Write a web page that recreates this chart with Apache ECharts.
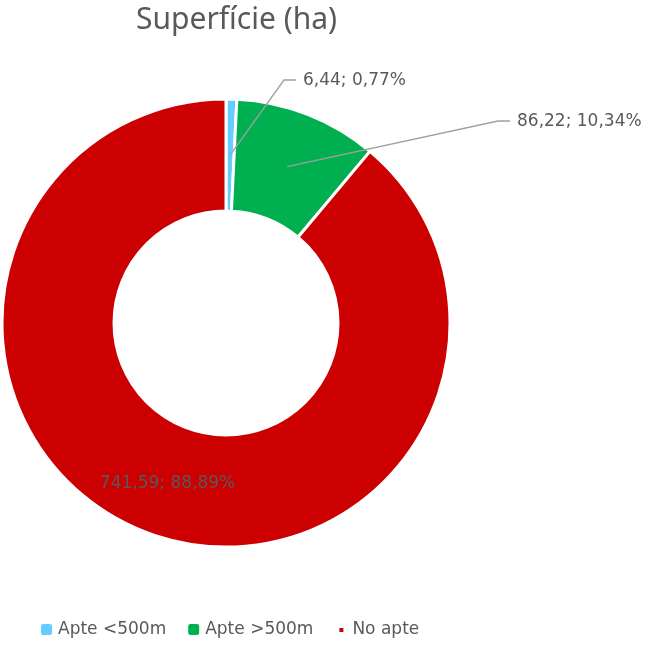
<!DOCTYPE html>
<html>
<head>
<meta charset="utf-8">
<script src="https://cdn.jsdelivr.net/npm/echarts@6/dist/echarts.min.js"></script>
<style>
  html, body { margin: 0; padding: 0; background: #fff; }
  #chart { width: 646px; height: 647px; }
</style>
</head>
<body>
<div id="chart"></div>
<script>
// Superfície (ha) - donut
const categories = ["Apte <500m", "Apte >500m", "No apte"];
const values = [6.44, 86.22, 741.59];
const colors = ["#66CCFF", "#00B050", "#CC0000"];

(function(){
  const CX = 226, CY = 323, R_IN = 112, R_OUT = 224;
  const R_MID = (R_IN + R_OUT) / 2;
  const total = values.reduce((a, b) => a + b, 0);
  const fmt = (n) => Number(n).toFixed(2).replace(".", ",");
  const labelText = (p) => `${fmt(p.value)}; ${fmt(p.percent)}%`;
  const labelFont = { fontFamily: "DejaVu Sans", fontSize: 17 };

  // where the outside labels sit (left edge, middle)
  const spots = { 0: [303, 81], 1: [517, 122] };

  function midPoint(i){
    let cum = 0;
    for (let k = 0; k < i; k++) cum += values[k];
    const a = 2 * Math.PI * (cum + values[i] / 2) / total;
    return [CX + R_MID * Math.sin(a), CY - R_MID * Math.cos(a)];
  }

  // main ring: colours + the label that sits inside the big slice
  const ringData = categories.map((name, i) => ({
    name, value: values[i],
    itemStyle: { color: colors[i] },
    label: { show: i === 2 }
  }));

  // transparent copy on top, only carries the callout labels and their lines
  const calloutData = categories.map((name, i) => ({
    name, value: values[i],
    label: { show: i !== 2 },
    labelLine: { show: i !== 2 }
  }));

  const chart = echarts.init(document.getElementById("chart"));
  chart.setOption({
    animation: false,
    title: {
      text: "Superfície (ha)",
      left: 131, top: 0,
      textStyle: { fontFamily: "Noto Sans", fontSize: 30, fontWeight: "normal", color: "#595959" }
    },
    legend: {
      left: 39, top: 621, padding: 0,
      itemWidth: 13, itemHeight: 13, itemGap: 20,
      textStyle: { fontFamily: "DejaVu Sans", fontSize: 17, color: "#595959" },
      data: [
        { name: categories[0], icon: "roundRect" },
        { name: categories[1], icon: "roundRect" },
        { name: categories[2], icon: "path://M0,0M13,13M4,4h6v6h-6z" }
      ]
    },
    series: [{
      type: "pie",
      z: 2,
      center: [CX, CY],
      radius: [R_IN, R_OUT],
      startAngle: 90,
      clockwise: true,
      itemStyle: { borderColor: "#fff", borderWidth: 3 },
      label: Object.assign({ position: "inside", color: "#595959", formatter: labelText }, labelFont),
      labelLine: { show: false },
      emphasis: { disabled: true },
      silent: true,
      data: ringData
    }, {
      type: "pie",
      z: 3,
      center: [CX, CY],
      radius: [R_IN, R_OUT],
      startAngle: 90,
      clockwise: true,
      itemStyle: { color: "rgba(0,0,0,0)", borderWidth: 0 },
      label: Object.assign({ position: "outside", color: "#595959", formatter: labelText }, labelFont),
      labelLine: { lineStyle: { color: "#A0A0A0", width: 1.3 } },
      labelLayout: (p) => {
        const s = spots[p.dataIndex];
        if (!s) return {};
        const st = midPoint(p.dataIndex);
        return {
          x: s[0], y: s[1], align: "left", verticalAlign: "middle",
          labelLinePoints: [st, [s[0] - 19, s[1] - 1], [s[0] - 7, s[1] - 1]]
        };
      },
      emphasis: { disabled: true },
      silent: true,
      data: calloutData
    }]
  });
})();
</script>
</body>
</html>
